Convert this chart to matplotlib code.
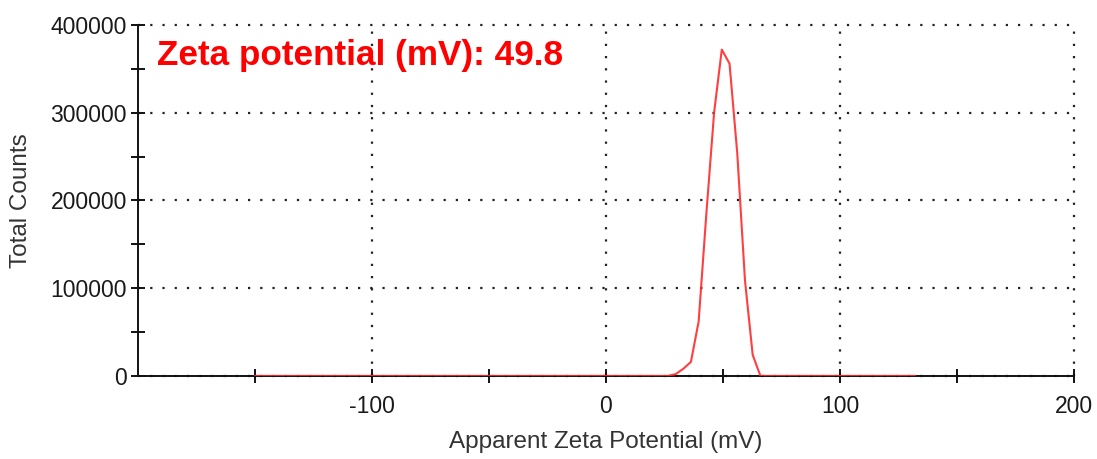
import matplotlib.pyplot as plt

plt.rcParams["font.family"] = ["Liberation Sans", "DejaVu Sans"]
plt.rcParams["axes.unicode_minus"] = False

# zeta potential distribution
zeta_mv = [-150, 26.4, 29.7, 33.0, 36.3, 39.6, 42.9, 46.2, 49.5, 52.8,
           56.1, 59.4, 62.7, 66.0, 132]
counts = [0, 0, 2000, 8000, 16000, 62000, 185000, 300000, 372000, 356000,
          254000, 109000, 24000, 0, 0]

x_ticks = [-100, 0, 100, 200]
y_ticks = [0, 100000, 200000, 300000, 400000]
annotation = "Zeta potential (mV): 49.8"

fig = plt.figure(figsize=(10.97, 4.59), dpi=100)
ax = fig.add_axes([0.1258, 0.181, 0.8532, 0.7645])

ax.plot(zeta_mv, counts, color="#ff2a2a", lw=1.5, alpha=0.9, zorder=3)

ax.set_xlim(-200, 200)
ax.set_ylim(0, 400000)
ax.set_xticks(x_ticks)
ax.set_xticks([-150, -50, 50, 150], minor=True)
ax.set_yticks(y_ticks)
ax.set_yticks([50000, 150000, 250000, 350000], minor=True)
ax.set_yticklabels([str(v) for v in y_ticks])

for side in ["top", "right"]:
    ax.spines[side].set_visible(False)
for side in ["left", "bottom"]:
    ax.spines[side].set_linewidth(1.4)
    ax.spines[side].set_color("#111111")

ax.tick_params(which="both", direction="inout", length=10, width=1.4,
               color="#111111")
ax.tick_params(axis="x", which="major", pad=9, labelsize=16.5, labelcolor="#1a1a1a")
ax.tick_params(axis="y", which="major", pad=3, labelsize=16.5, labelcolor="#1a1a1a")

ax.grid(True, which="major", color="#222222", linestyle=(0, (1, 4.5)), lw=1.6)
for gl in ax.get_xgridlines() + ax.get_ygridlines():
    gl.set_clip_on(False)

ax.set_xlabel("Apparent Zeta Potential (mV)", fontsize=17.5, color="#333333", labelpad=9)
ax.set_ylabel("Total Counts", fontsize=17.5, color="#333333", labelpad=13)

ax.text(0.02, 0.886, annotation, transform=ax.transAxes, color="#ff0000",
        fontsize=25.3, fontweight="bold", va="baseline", ha="left")

fig.savefig("out.png", dpi=100)
